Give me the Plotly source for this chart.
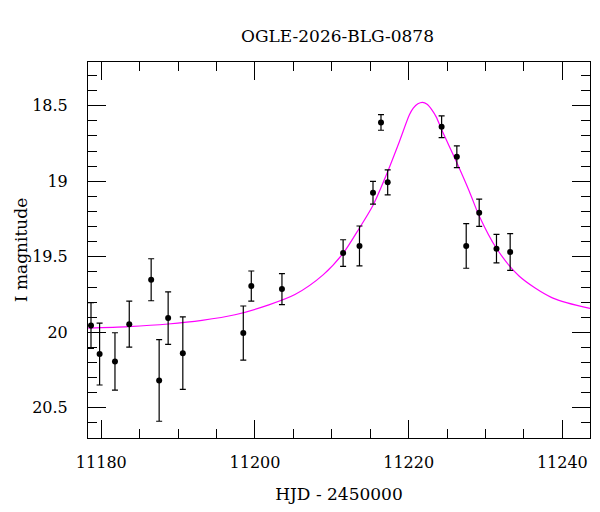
import plotly.graph_objects as go

# Observed photometry (HJD - 2450000, I mag, error)
obs_t = [11178.66, 11179.78, 11181.78, 11183.64, 11186.49, 11187.53, 11188.70,
         11190.61, 11198.48, 11199.52, 11203.51, 11211.47, 11213.60, 11215.36,
         11216.40, 11217.27, 11224.29, 11226.27, 11227.49, 11229.18, 11231.43,
         11233.21]
obs_mag = [19.955, 20.144, 20.193, 19.946, 19.652, 20.319, 19.906,
           20.138, 20.005, 19.694, 19.714, 19.475, 19.428, 19.076,
           18.610, 19.007, 18.639, 18.837, 19.428, 19.208, 19.446,
           19.468]
obs_err = [0.152, 0.205, 0.190, 0.152, 0.139, 0.270, 0.174,
           0.240, 0.179, 0.100, 0.103, 0.088, 0.132, 0.075,
           0.052, 0.083, 0.072, 0.072, 0.148, 0.090, 0.094,
           0.122]

# Model curve
model_t = [11178.3, 11183.5, 11188.7, 11193.1, 11197.4, 11201.7, 11205.2,
           11208.9, 11211.5, 11213.6, 11215.4, 11217.1, 11218.8, 11220.1,
           11220.6, 11221.2, 11221.8, 11222.4, 11223.0, 11223.6, 11224.3,
           11226.2, 11227.9, 11229.2, 11231.4, 11234.4, 11238.7, 11243.6]
model_mag = [19.972, 19.962, 19.945, 19.921, 19.884, 19.820, 19.750,
             19.618, 19.475, 19.309, 19.155, 18.957, 18.736, 18.560,
             18.516, 18.487, 18.477, 18.490, 18.525, 18.575, 18.659,
             18.869, 19.067, 19.232, 19.442, 19.629, 19.772, 19.842]

x_range = [11178.27, 11243.6]
y_range = [20.70, 18.21]

FONT = "DejaVu Serif"

fig = go.Figure()
fig.add_trace(go.Scatter(
    x=model_t, y=model_mag, mode="lines",
    line=dict(color="#ff00ff", width=1.2, shape="spline", smoothing=0.8),
    hoverinfo="skip", showlegend=False))
fig.add_trace(go.Scatter(
    x=obs_t, y=obs_mag, mode="markers",
    marker=dict(color="black", size=6),
    error_y=dict(type="data", array=obs_err, visible=True,
                 color="black", thickness=1.2, width=3),
    showlegend=False))

axis_common = dict(
    showgrid=False, zeroline=False, showline=True, linecolor="black",
    linewidth=1, mirror="allticks", ticks="inside", tickcolor="black",
    tickwidth=1, ticklen=18,
    tickfont=dict(family=FONT, size=16, color="black"),
)

fig.update_layout(
    width=600, height=512,
    margin=dict(l=88, r=10, t=62, b=74),
    paper_bgcolor="white", plot_bgcolor="white",
    title=dict(text="OGLE-2026-BLG-0878", x=0.5625, xanchor="center",
               y=1 - 36 / 512, yanchor="middle", yref="container",
               font=dict(family=FONT, size=17, color="black")),
    xaxis=dict(range=x_range, dtick=20, tick0=11180, tickformat="d",
               ticklabelstandoff=10,
               minor=dict(dtick=5, tick0=11180, ticks="inside", ticklen=9,
                          tickcolor="black", tickwidth=1),
               title=dict(text="HJD - 2450000", standoff=16,
                          font=dict(family=FONT, size=17, color="black")),
               **axis_common),
    yaxis=dict(range=y_range, dtick=0.5, tick0=18.5,
               ticklabelstandoff=16,
               minor=dict(dtick=0.1, tick0=18.5, ticks="inside", ticklen=9,
                          tickcolor="black", tickwidth=1),
               title=dict(text="I magnitude", standoff=0,
                          font=dict(family=FONT, size=17, color="black")),
               **axis_common),
)

fig.write_html("out.html")
